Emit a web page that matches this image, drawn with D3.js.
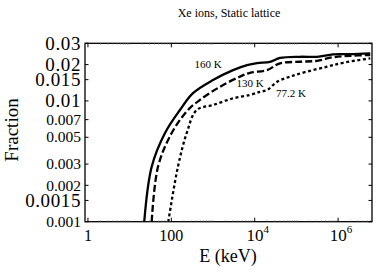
<!DOCTYPE html>
<html>
<head>
<meta charset="utf-8">
<script src="https://d3js.org/d3.v7.min.js"></script>
<style>
  body { margin: 0; background: #fff; }
  svg { display: block; }
  svg text { font-family: "Liberation Serif", Tinos, "Times New Roman", Times, serif; }
</style>
</head>
<body>
<svg id="chart" width="377" height="278"></svg>
<script>
// --- data ---
const title = "Xe ions, Static lattice";
const xTicks = [1, 100, 1e4, 1e6];
const yTicks = [0.03, 0.02, 0.015, 0.01, 0.007, 0.005, 0.003, 0.002, 0.0015, 0.001];

const energy160 = [22.4, 33.8, 70.5, 161, 331, 1000, 3020, 6550, 11400, 23300, 40500, 122000, 313000, 758000, 1.94e6, 5.9e6];
const frac160   = [0.001, 0.00285, 0.00542, 0.00841, 0.0116, 0.0149, 0.0180, 0.0198, 0.0206, 0.0211, 0.0227, 0.0232, 0.0232, 0.0243, 0.0244, 0.0248];

const energy130 = [33.8, 47.9, 102, 251, 487, 1470, 4450, 7720, 19800, 40500, 122000, 313000, 758000, 1.94e6, 5.9e6];
const frac130   = [0.001, 0.00285, 0.00542, 0.00841, 0.0102, 0.0131, 0.0159, 0.0171, 0.0180, 0.0205, 0.0211, 0.0215, 0.0230, 0.0236, 0.0240];

const energy77 = [84.5, 144, 234, 406, 1000, 3020, 7720, 13400, 19800, 34400, 70400, 180000, 545000, 1.32e6, 5.9e6];
const frac77   = [0.001, 0.00285, 0.00542, 0.00841, 0.00925, 0.0105, 0.0112, 0.0119, 0.0123, 0.0144, 0.0159, 0.0175, 0.0192, 0.0207, 0.0225];

// where each curve's name sits, in data units
const labelE = [760, 7700, 74000];
const labelF = [0.0187, 0.0130, 0.0108];

const series = [
    { name: "160 K", e: energy160, f: frac160, dash: null },
    { name: "130 K", e: energy130, f: frac130, dash: "7,3" },
    { name: "77.2 K", e: energy77, f: frac77,  dash: "3,2.6" }
];

const svg = d3.select("#chart");
const pLeft = 85, pRight = 372, pTop = 43.3, pBottom = 221.7;

const x = d3.scaleLog().domain([0.85, 6.5e6]).range([pLeft, pRight]);
const y = d3.scaleLog().domain([0.001, 0.03]).range([pBottom, pTop]);

// title
svg.append("text").attr("x", 229).attr("y", 17).attr("text-anchor", "middle")
    .attr("font-size", 12).text(title);

// curves (clipped to frame)
svg.append("clipPath").attr("id", "clip").append("rect")
    .attr("x", pLeft).attr("y", pTop).attr("width", pRight - pLeft).attr("height", pBottom - pTop);

const line = d3.line().x(d => x(d[0])).y(d => y(d[1])).curve(d3.curveCatmullRom.alpha(0.5));

series.forEach((s, i) => {
    const pts = s.e.map((e, j) => [e, s.f[j]]);
    svg.append("path")
        .attr("clip-path", "url(#clip)")
        .attr("d", line(pts))
        .attr("fill", "none")
        .attr("stroke", "#000")
        .attr("stroke-width", 2.3)
        .attr("stroke-dasharray", s.dash);
    svg.append("text").attr("x", x(labelE[i])).attr("y", y(labelF[i]))
        .attr("text-anchor", "middle").attr("font-size", 11).text(s.name);
});

// frame
svg.append("rect").attr("x", pLeft).attr("y", pTop)
    .attr("width", pRight - pLeft).attr("height", pBottom - pTop)
    .attr("fill", "none").attr("stroke", "#000").attr("stroke-width", 1.3);

// x ticks: majors every 2 decades, minor marks in between
const minor = [];
for (let p = 0; p < 7; p++) for (let k = 1; k < 10; k++) {
    const v = k * Math.pow(10, p);
    if (v <= 6.5e6 && !xTicks.includes(v)) minor.push(v);
}
[pBottom, pTop].forEach(yy => {
    const dir = yy === pBottom ? -1 : 1;
    svg.selectAll(null).data(minor).enter().append("line")
        .attr("x1", d => x(d)).attr("x2", d => x(d))
        .attr("y1", yy).attr("y2", yy + dir * 1.5)
        .attr("stroke", "#777").attr("stroke-width", 0.6);
    svg.selectAll(null).data(xTicks).enter().append("line")
        .attr("x1", d => x(d)).attr("x2", d => x(d))
        .attr("y1", yy).attr("y2", yy + dir * 4)
        .attr("stroke", "#000").attr("stroke-width", 1);
});

const xl = svg.selectAll(null).data(xTicks).enter().append("text")
    .attr("x", d => x(d)).attr("y", 241)
    .attr("text-anchor", "middle").attr("font-size", 16);
xl.each(function(d) {
    const t = d3.select(this);
    if (d < 1000) { t.text(d); return; }
    t.attr("font-size", 17).attr("dx", 3);
    t.append("tspan").text("10");
    t.append("tspan").attr("dy", -8).attr("font-size", 11).text(Math.round(Math.log10(d)));
});

// y ticks on both sides
[pLeft, pRight].forEach(xx => {
    const dir = xx === pLeft ? 1 : -1;
    svg.selectAll(null).data(yTicks).enter().append("line")
        .attr("x1", xx).attr("x2", xx + dir * 3.5)
        .attr("y1", d => y(d)).attr("y2", d => y(d))
        .attr("stroke", "#000").attr("stroke-width", 1);
});
// the original renders some tick labels larger than others
const bigLabel = d => d >= 0.01 || d === 0.0015;
svg.selectAll(null).data(yTicks).enter().append("text")
    .attr("x", 81)
    .attr("y", d => y(d) + (bigLabel(d) ? 6.3 : 5.2))
    .attr("text-anchor", "end")
    .attr("font-size", d => bigLabel(d) ? 19 : 15.5)
    .attr("letter-spacing", d => bigLabel(d) ? 0.6 : 0)
    .text(d => d);

// axis titles
svg.append("text").attr("x", 228).attr("y", 262).attr("text-anchor", "middle")
    .attr("font-size", 18).text("E (keV)");
svg.append("text").attr("transform", "translate(18,130) rotate(-90)")
    .attr("text-anchor", "middle").attr("font-size", 19).text("Fraction");
</script>
</body>
</html>
